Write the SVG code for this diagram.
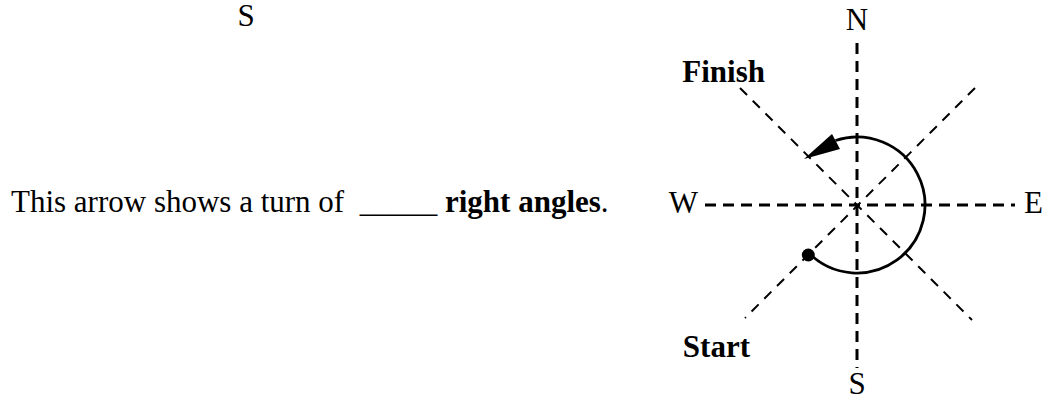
<svg xmlns="http://www.w3.org/2000/svg" width="1052" height="400" viewBox="0 0 1052 400">
<style>
text{font-family:"Liberation Serif","Times New Roman",serif;font-size:31px;fill:#000}
.b{font-weight:bold}
.axis{stroke:#000;stroke-width:3;stroke-dasharray:11 7;fill:none}
.diag{stroke:#000;stroke-width:2;stroke-dasharray:10 8;fill:none}
</style>
<rect width="1052" height="400" fill="#fff"/>
<g id="top-s"><text x="246" y="26" text-anchor="middle">S</text></g>
<g id="question"><text x="11" y="212" xml:space="preserve">This arrow shows a turn of  _____ <tspan class="b">right angles</tspan>.</text></g>
<g id="connectors">
<line class="axis" x1="857" y1="43" x2="857" y2="368"/>
<line class="axis" x1="705" y1="205" x2="1015" y2="205"/>
<line class="diag" x1="740" y1="88" x2="972" y2="320"/>
<line class="diag" x1="975" y1="88" x2="745" y2="318"/>
<path d="M808.9,253.1 A68,68 0 1 0 835.5,140.5" fill="none" stroke="#000" stroke-width="2.8"/>
<polygon points="804,159 840,149 832,134" fill="#000"/>
<circle cx="808.3" cy="255" r="6.5" fill="#000"/>
</g>
<g id="label-n"><text x="857" y="30" text-anchor="middle">N</text></g>
<g id="label-s"><text x="857" y="394" text-anchor="middle">S</text></g>
<g id="label-w"><text x="698" y="213" text-anchor="end">W</text></g>
<g id="label-e"><text x="1024" y="213">E</text></g>
<g id="label-finish"><text class="b" x="765" y="82" text-anchor="end">Finish</text></g>
<g id="label-start"><text class="b" x="750" y="357" text-anchor="end">Start</text></g>
</svg>
